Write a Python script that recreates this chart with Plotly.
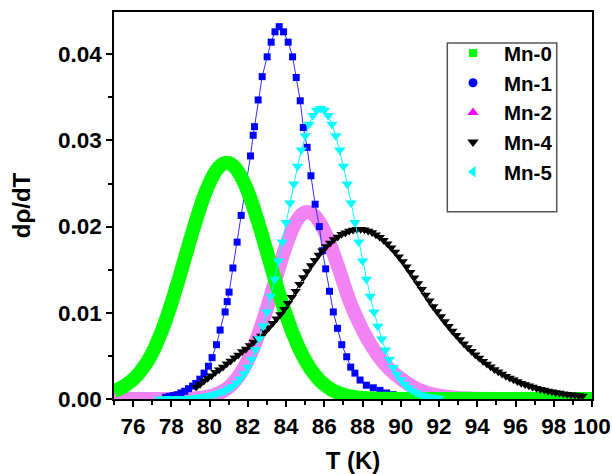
import plotly.graph_objects as go

# ---------------- data ----------------
MN0_T = [75.0, 75.2, 75.4, 75.6, 75.8, 76.0, 76.2, 76.4, 76.6, 76.8, 77.0, 77.2, 77.4, 77.6, 77.8,
         78.0, 78.2, 78.4, 78.6, 78.8, 79.0, 79.2, 79.4, 79.6, 79.8, 80.0, 80.2, 80.4, 80.6, 80.8,
         81.0, 81.2, 81.4, 81.6, 81.8, 82.0, 82.2, 82.4, 82.6, 82.8, 83.0, 83.2, 83.4, 83.6, 83.8,
         84.0, 84.2, 84.4, 84.6, 84.8, 85.0, 85.2, 85.4, 85.6, 85.8, 86.0, 86.2, 86.4, 86.6, 86.8,
         87.0, 87.2, 87.4, 87.6, 87.8, 88.0, 88.5, 89.0, 90.0, 92.0, 95.0, 100.0]
MN0_D = [0.00092, 0.00110, 0.00131, 0.00158, 0.00190, 0.00228, 0.00272, 0.00325, 0.00385, 0.00455,
         0.00534, 0.00629, 0.00734, 0.00849, 0.00975, 0.01109, 0.01251, 0.01399, 0.01551, 0.01705,
         0.01859, 0.02008, 0.02151, 0.02285, 0.02406, 0.02511, 0.02599, 0.02667, 0.02714, 0.02737,
         0.02737, 0.02714, 0.02667, 0.02599, 0.02511, 0.02406, 0.02285, 0.02151, 0.02008, 0.01859,
         0.01705, 0.01551, 0.01399, 0.01251, 0.01109, 0.00975, 0.00849, 0.00734, 0.00629, 0.00534,
         0.00450, 0.00375, 0.00311, 0.00255, 0.00207, 0.00167, 0.00134, 0.00106, 0.00083, 0.00065,
         0.00050, 0.00038, 0.00029, 0.00022, 0.00016, 0.00012, 0.00006, 0.00003, 0.00001, 0.0,
         0.0, 0.0]

MN1_T = [77.70, 77.90, 78.10, 78.30, 78.50, 78.70, 78.90, 79.11, 79.28, 79.49, 79.71, 79.94, 80.13,
         80.36, 80.55, 80.81, 80.92, 81.02, 81.22, 81.44, 81.65, 81.90, 82.14, 82.28, 82.35, 82.54,
         82.75, 83.01, 83.22, 83.42, 83.64, 83.87, 84.11, 84.34, 84.53, 84.74, 84.90, 85.10, 85.30,
         85.52, 85.74, 85.90, 86.07, 86.27, 86.47, 86.69, 86.91, 87.17, 87.38, 87.60, 87.87, 88.20,
         88.56, 88.91, 89.26, 89.60, 90.00, 90.40, 90.80]
MN1_D = [0.0002, 0.0003, 0.0004, 0.0005, 0.0007, 0.0009, 0.0012, 0.0015, 0.0018, 0.0023, 0.0030,
         0.0038, 0.0048, 0.0063, 0.0080, 0.0101, 0.0113, 0.0124, 0.0152, 0.0182, 0.0213, 0.0247,
         0.0282, 0.0306, 0.0316, 0.0347, 0.0374, 0.0397, 0.0414, 0.0426, 0.0432, 0.0426, 0.0414,
         0.0397, 0.0373, 0.0346, 0.0315, 0.0292, 0.0259, 0.0226, 0.0200, 0.0172, 0.0151, 0.0125,
         0.0101, 0.0082, 0.0063, 0.0049, 0.0037, 0.0030, 0.0022, 0.0016, 0.0013, 0.0010, 0.0007,
         0.0005, 0.0003, 0.0002, 0.0001]

MN2_T = [75.0, 77.0, 78.0, 79.0, 79.2, 79.4, 79.6, 79.8, 80.0, 80.2, 80.4, 80.6, 80.8, 81.0, 81.2,
         81.4, 81.6, 81.8, 82.0, 82.2, 82.4, 82.6, 82.8, 83.0, 83.2, 83.4, 83.6, 83.8, 84.0, 84.2,
         84.4, 84.6, 84.8, 85.0, 85.2, 85.4, 85.6, 85.8, 86.0, 86.2, 86.4, 86.6, 86.8, 87.0, 87.2,
         87.4, 87.6, 87.8, 88.0, 88.2, 88.4, 88.6, 88.8, 89.0, 89.2, 89.4, 89.6, 89.8, 90.0, 90.2,
         90.4, 90.6, 90.8, 91.0, 91.2, 91.4, 91.6, 91.8, 92.0, 92.2, 92.4, 92.6, 92.8, 93.0, 93.2,
         94.0, 96.0, 100.0]
MN2_D = [0.0, 0.0, 0.00001, 0.00005, 0.00007, 0.00010, 0.00015, 0.00022, 0.00031, 0.00042, 0.00058,
         0.00078, 0.00105, 0.00138, 0.00179, 0.00230, 0.00291, 0.00364, 0.00449, 0.00547, 0.00657,
         0.00779, 0.00912, 0.01053, 0.01201, 0.01351, 0.01501, 0.01645, 0.01780, 0.01900, 0.02003,
         0.02083, 0.02138, 0.02166, 0.02167, 0.02144, 0.02100, 0.02035, 0.01951, 0.01851, 0.01737,
         0.01614, 0.01484, 0.01350, 0.01215, 0.01094, 0.00990, 0.00893, 0.00802, 0.00718, 0.00641,
         0.00571, 0.00506, 0.00449, 0.00397, 0.00350, 0.00308, 0.00271, 0.00237, 0.00204, 0.00173,
         0.00146, 0.00122, 0.00102, 0.00085, 0.00071, 0.00059, 0.00048, 0.00040, 0.00033, 0.00027,
         0.00022, 0.00017, 0.00013, 0.00010, 0.00004, 0.0, 0.0]

MN4_T = [79.3, 79.5, 79.7, 79.9, 80.1, 80.3, 80.5, 80.7, 80.9, 81.1, 81.3, 81.5, 81.7, 81.9, 82.1,
         82.3, 82.5, 82.7, 82.9, 83.1, 83.3, 83.5, 83.7, 83.9, 84.1, 84.3, 84.5, 84.7, 84.9, 85.1,
         85.3, 85.5, 85.7, 85.9, 86.1, 86.3, 86.5, 86.7, 86.9, 87.1, 87.3, 87.5, 87.7, 87.9, 88.1,
         88.3, 88.5, 88.7, 88.9, 89.1, 89.3, 89.5, 89.7, 89.9, 90.1, 90.3, 90.5, 90.7, 90.9, 91.1,
         91.3, 91.5, 91.7, 91.9, 92.1, 92.3, 92.5, 92.7, 92.9, 93.1, 93.3, 93.5, 93.7, 93.9, 94.1,
         94.3, 94.5, 94.7, 94.9, 95.1, 95.3, 95.5, 95.7, 95.9, 96.1, 96.3, 96.5, 96.7, 96.9, 97.1,
         97.3, 97.5, 97.7, 97.9, 98.1, 98.3, 98.5, 98.7, 98.9, 99.1, 99.3, 99.5]
MN4_D = [0.0014, 0.0017, 0.0021, 0.0024, 0.0027, 0.0031, 0.0034, 0.0037, 0.0041, 0.0044, 0.0048,
         0.0051, 0.0055, 0.0058, 0.0062, 0.0066, 0.0070, 0.0073, 0.0078, 0.0083, 0.0088, 0.0093,
         0.0098, 0.0104, 0.0111, 0.0118, 0.0125, 0.0133, 0.0141, 0.0148, 0.0155, 0.0161, 0.0167,
         0.0172, 0.0177, 0.0181, 0.0185, 0.0188, 0.0191, 0.0193, 0.0195, 0.0196, 0.0197, 0.0197,
         0.01963, 0.01950, 0.01932, 0.01907, 0.01877, 0.01841, 0.01800, 0.01755, 0.01705, 0.01651,
         0.01594, 0.01534, 0.01472, 0.01407, 0.01341, 0.01274, 0.01207, 0.01139, 0.01072, 0.01015,
         0.00956, 0.00899, 0.00844, 0.00790, 0.00739, 0.00690, 0.00642, 0.00597, 0.00555, 0.00514,
         0.00476, 0.00439, 0.00405, 0.00373, 0.00343, 0.00316, 0.00289, 0.00265, 0.00243, 0.00222,
         0.00202, 0.00184, 0.00168, 0.00153, 0.00139, 0.00126, 0.00114, 0.00103, 0.00093, 0.00084,
         0.00076, 0.00069, 0.00062, 0.00056, 0.00050, 0.00045, 0.00040, 0.00036]

MN5_T = [77.4, 77.6, 77.8, 78.0, 78.2, 78.4, 78.6, 78.8, 79.0, 79.2, 79.4, 79.6, 79.8, 80.0, 80.2,
         80.4, 80.6, 80.8, 81.0, 81.2, 81.4, 81.6, 81.8, 82.0, 82.2, 82.4, 82.6, 82.8, 83.0, 83.2,
         83.4, 83.6, 83.8, 84.0, 84.2, 84.4, 84.6, 84.8, 85.0, 85.2, 85.4, 85.6, 85.8, 86.0, 86.2,
         86.4, 86.6, 86.8, 87.0, 87.2, 87.4, 87.6, 87.8, 88.0, 88.2, 88.4, 88.6, 88.8, 89.0, 89.2,
         89.4, 89.6, 89.8, 90.0, 90.2, 90.4, 90.6, 90.8, 91.0, 91.2, 91.4, 91.6, 91.8, 92.0]
MN5_D = [0.00001, 0.00001, 0.00002, 0.00002, 0.00003, 0.00004, 0.00005, 0.00007, 0.00009, 0.00012,
         0.00016, 0.00022, 0.00030, 0.00040, 0.00050, 0.00063, 0.00078, 0.00095, 0.00118, 0.00146,
         0.00185, 0.00232, 0.00292, 0.00368, 0.00460, 0.00571, 0.00700, 0.00846, 0.01010, 0.01192,
         0.01390, 0.01601, 0.01822, 0.02047, 0.02273, 0.02493, 0.02700, 0.02889, 0.03054, 0.03188,
         0.03288, 0.03349, 0.03370, 0.03349, 0.03288, 0.03188, 0.03054, 0.02889, 0.02700, 0.02493,
         0.02273, 0.02047, 0.01821, 0.01600, 0.01389, 0.01191, 0.01009, 0.00844, 0.00697, 0.00569,
         0.00459, 0.00365, 0.00287, 0.00223, 0.00171, 0.00130, 0.00097, 0.00072, 0.00053, 0.00038,
         0.00027, 0.00019, 0.00013, 0.00009]

SERIES_NAMES = ["Mn-0", "Mn-1", "Mn-2", "Mn-4", "Mn-5"]
X_TICKS = [76, 78, 80, 82, 84, 86, 88, 90, 92, 94, 96, 98, 100]
Y_TICKS = [0.0, 0.01, 0.02, 0.03, 0.04]
Y_TICK_LABELS = ["0.00", "0.01", "0.02", "0.03", "0.04"]
X_TITLE = "T (K)"
Y_TITLE = "dρ/dT"

# ---------------- styles ----------------
FONT = "Arial, Liberation Sans, sans-serif"
C_GREEN = "#00FF00"
C_BLUE = "#0000FF"
C_PINK = "#F283F2"
C_MAGENTA = "#FF00FF"
C_BLACK = "#000000"
C_CYAN = "#00FFFF"

fig = go.Figure()

# drawn curves (bottom to top)
fig.add_trace(go.Scatter(x=MN2_T, y=MN2_D, mode="lines", showlegend=False,
                         line=dict(color=C_PINK, width=14, shape="spline", smoothing=0.6)))
fig.add_trace(go.Scatter(x=MN1_T, y=MN1_D, mode="lines+markers", showlegend=False,
                         line=dict(color="#3030FF", width=1),
                         marker=dict(symbol="square", size=7, color=C_BLUE)))
fig.add_trace(go.Scatter(x=MN0_T, y=MN0_D, mode="lines", showlegend=False,
                         line=dict(color=C_GREEN, width=14, shape="spline", smoothing=0.6)))
fig.add_trace(go.Scatter(x=MN4_T, y=MN4_D, mode="lines+markers", showlegend=False,
                         line=dict(color=C_BLACK, width=1),
                         marker=dict(symbol="triangle-down", size=9, color=C_BLACK)))
fig.add_trace(go.Scatter(x=MN5_T, y=MN5_D, mode="lines+markers", showlegend=False,
                         line=dict(color=C_CYAN, width=1),
                         marker=dict(symbol="triangle-down", size=10, color=C_CYAN)))

# legend entries
legend_markers = [("square", 8, C_GREEN), ("circle", 9, C_BLUE), ("triangle-up", 10, C_MAGENTA),
                  ("triangle-down", 10, C_BLACK), ("triangle-left", 10, C_CYAN)]
for name, (sym, sz, col) in zip(SERIES_NAMES, legend_markers):
    fig.add_trace(go.Scatter(x=[None], y=[None], mode="markers", name=name,
                             marker=dict(symbol=sym, size=sz, color=col)))

fig.update_layout(
    width=612, height=474,
    margin=dict(l=114, r=20, t=12, b=75),
    paper_bgcolor="white", plot_bgcolor="white",
    font=dict(family=FONT, color="black"),
    showlegend=True,
    legend=dict(x=0.6862, y=0.945, xanchor="left", yanchor="top",
                borderwidth=0, bgcolor="rgba(255,255,255,0)",
                font=dict(size=20.5, family=FONT, weight="bold"),
                itemwidth=52),
    shapes=[dict(type="rect", xref="paper", yref="paper",
                 x0=0.6973, x1=0.9262, y0=0.484, y1=0.9199,
                 line=dict(color="#555555", width=1.5), fillcolor="rgba(0,0,0,0)", layer="above")],
    xaxis=dict(range=[75, 100], tickmode="array", tickvals=X_TICKS, automargin=False,
               ticks="outside", ticklen=6, tickwidth=1.5, tickcolor="black",
               showline=True, linecolor="black", linewidth=1.5, mirror=True,
               showgrid=False, zeroline=False,
               tickfont=dict(size=22.5, family=FONT, weight="bold"),
               minor=dict(dtick=1, ticks="outside", ticklen=4, tickwidth=1.5, tickcolor="black"),
               title=dict(text=X_TITLE, font=dict(size=24, family=FONT, weight="bold"), standoff=18)),
    yaxis=dict(range=[0, 0.0449], tickmode="array", tickvals=Y_TICKS, ticktext=Y_TICK_LABELS,
               automargin=False,
               ticks="outside", ticklen=6, tickwidth=1.5, tickcolor="black",
               showline=True, linecolor="black", linewidth=1.5, mirror=True,
               showgrid=False, zeroline=False,
               tickfont=dict(size=22.5, family=FONT, weight="bold"),
               minor=dict(dtick=0.005, ticks="outside", ticklen=4, tickwidth=1.5, tickcolor="black"),
               title=dict(text=Y_TITLE, font=dict(size=24, family=FONT, weight="bold"), standoff=21)),
)

fig.write_html("out.html")
